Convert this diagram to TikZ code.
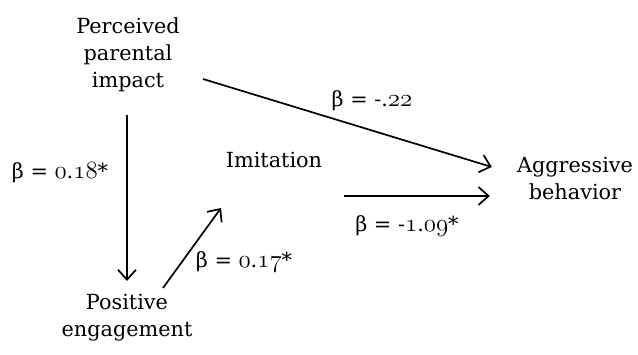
\documentclass[tikz,border=0pt]{standalone}
\usepackage{fontspec}
\setmainfont{DejaVu Serif}
\usetikzlibrary{arrows.meta}
\newcommand{\fs}{\fontsize{20.8pt}{27pt}\selectfont}
\newcommand{\on}[1]{{\fontencoding{OML}\fontfamily{lmm}\fontseries{m}\fontshape{it}\fontsize{25pt}{27pt}\selectfont #1}}
\begin{document}
\begin{tikzpicture}[x=1pt,y=-1pt,
  lbl/.style={font=\fs, align=center, inner sep=0pt},
  coef/.style={font=\fs, inner sep=0pt, anchor=center},
  arr/.style={-{Straight Barb[length=10pt,width=18pt,line width=1.7pt]}, line width=1.7pt}]
\useasboundingbox (0,0) rectangle (638,355);
\node[lbl] (ppi) at (128,55) {Perceived\\parental\\impact};
\node[lbl] (pe) at (127,318) {Positive\\engagement};
\node[lbl] (im) at (274,160) {Imitation};
\node[lbl] (ab) at (575,178) {Aggressive\\behavior};
\draw[arr] ([shift={(-1,60)}]ppi.center) -- ([shift={(0,-37)}]pe.center);
\draw[arr] ([shift={(36,-30)}]pe.center) -- ([shift={(-53,48)}]im.center);
\draw[arr] ([shift={(70,36)}]im.center) -- ([shift={(-27,18)}]ab.west);
\draw[arr] ([shift={(75,24)}]ppi.center) -- ([shift={(-25,-11)}]ab.west);
\node[coef] (c1) at (60,173) {β = \on{0}.\on{18}*};
\node[coef] (c2) at (244,262) {β = \on{0}.\on{17}*};
\node[coef] (c3) at (372,101) {β = -.\on{22}};
\node[coef] (c4) at (407,226) {β = -\on{1}.\on{09}*};
\end{tikzpicture}
\end{document}
